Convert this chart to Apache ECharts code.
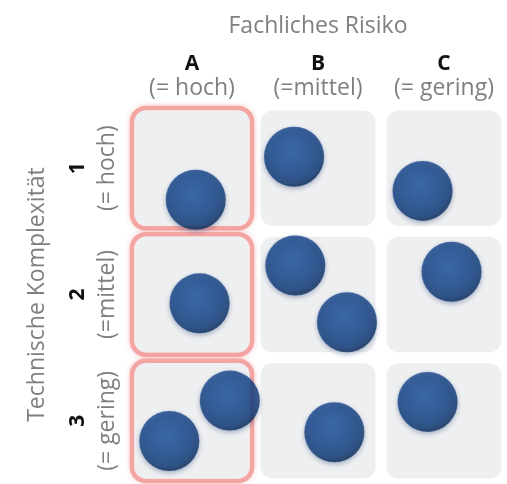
<!DOCTYPE html>
<html>
<head>
<meta charset="utf-8">
<style>
  html, body { margin: 0; padding: 0; background: #ffffff; }
  #chart { width: 507px; height: 484px; }
</style>
<script src="https://cdn.jsdelivr.net/npm/echarts@6/dist/echarts.min.js"></script>
</head>
<body>
<div id="chart"></div>
<script>
// Risk matrix: business risk (columns) vs. technical complexity (rows)
const columns = ['A', 'B', 'C'];
const columnNotes = ['(= hoch)', '(=mittel)', '(= gering)'];
const rows = ['1', '2', '3'];
const rowNotes = ['(= hoch)', '(=mittel)', '(= gering)'];
const highlightedColumn = 'A';

// Project positions inside the matrix (x: column units from left, y: row units from top)
const projectX = [0.53, 1.31, 2.33, 0.56, 1.32, 1.73, 2.56, 0.80, 0.32, 1.63, 2.37];
const projectY = [0.75, 0.41, 0.68, 1.57, 1.27, 1.72, 1.32, 2.34, 2.66, 2.59, 2.35];

const FONT = 'Open Sans';
const GREY_TEXT = '#7f7f7f';
const TEXT_SIZE = 23;
const KEY_SIZE = 21;

const cells = [];
columns.forEach((c, ci) => {
  rows.forEach((r, ri) => {
    cells.push([ci, ri, c === highlightedColumn ? 1 : 0]);
  });
});

const points = projectX.map((x, i) => [x, projectY[i]]);

function renderCell(params, api) {
  const ci = api.value(0), ri = api.value(1), hi = api.value(2);
  const p0 = api.coord([ci, ri]);
  const p1 = api.coord([ci + 1, ri + 1]);
  const inset = 5.5;
  const x = p0[0] + inset, y = p0[1] + inset;
  const w = p1[0] - p0[0] - 2 * inset, h = p1[1] - p0[1] - 2 * inset;
  const children = [];
  if (hi) {
    children.push({
      type: 'rect',
      shape: { x: x - 2.5, y: y - 2.5, width: w + 5, height: h + 5, r: 14 },
      style: {
        fill: 'none',
        stroke: '#f3a5a3',
        lineWidth: 4.5,
        shadowBlur: 5,
        shadowColor: 'rgba(240,150,150,0.6)'
      }
    });
  }
  children.push({
    type: 'rect',
    shape: { x: x, y: y, width: w, height: h, r: 12 },
    style: { fill: '#eeeff1' }
  });
  return { type: 'group', children: children };
}

const chart = echarts.init(document.getElementById('chart'), null, { renderer: 'canvas' });

chart.setOption({
  animation: false,
  backgroundColor: '#ffffff',
  grid: { left: 129, top: 105, width: 382.5, height: 382.5 },
  xAxis: [
    { type: 'value', min: 0, max: 3, show: false },
    {
      type: 'category',
      data: columns,
      position: 'top',
      boundaryGap: true,
      axisLine: { show: false },
      axisTick: { show: false },
      splitLine: { show: false },
      name: 'Fachliches Risiko',
      nameLocation: 'middle',
      nameGap: 67,
      nameTextStyle: { fontFamily: FONT, fontSize: TEXT_SIZE, color: GREY_TEXT },
      axisLabel: {
        margin: 5,
        formatter: (v, i) => '{k|' + v + '}\n{s|' + columnNotes[i] + '}',
        rich: {
          k: { fontFamily: FONT, fontSize: KEY_SIZE, fontWeight: 'bold', color: '#111111', lineHeight: 24, align: 'center' },
          s: { fontFamily: FONT, fontSize: TEXT_SIZE, color: GREY_TEXT, lineHeight: 24, align: 'center' }
        }
      }
    }
  ],
  yAxis: [
    { type: 'value', min: 0, max: 3, inverse: true, show: false },
    {
      type: 'category',
      data: rows,
      inverse: true,
      position: 'left',
      boundaryGap: true,
      axisLine: { show: false },
      axisTick: { show: false },
      splitLine: { show: false },
      name: 'Technische Komplexität',
      nameLocation: 'middle',
      nameRotate: 90,
      nameGap: 80,
      nameTextStyle: { fontFamily: FONT, fontSize: TEXT_SIZE, color: GREY_TEXT },
      axisLabel: {
        rotate: 90,
        margin: 7,
        formatter: (v, i) => '{k|' + v + '}\n{s|' + rowNotes[i] + '}',
        rich: {
          k: { fontFamily: FONT, fontSize: KEY_SIZE, fontWeight: 'bold', color: '#111111', lineHeight: 29, align: 'center' },
          s: { fontFamily: FONT, fontSize: TEXT_SIZE, color: GREY_TEXT, lineHeight: 29, align: 'center' }
        }
      }
    }
  ],
  series: [
    {
      type: 'custom',
      xAxisIndex: 0,
      yAxisIndex: 0,
      renderItem: renderCell,
      data: cells,
      silent: true,
      z: 1
    },
    {
      type: 'scatter',
      xAxisIndex: 0,
      yAxisIndex: 0,
      data: points,
      symbol: 'circle',
      symbolSize: 60,
      z: 3,
      itemStyle: {
        color: new echarts.graphic.RadialGradient(0.45, 0.4, 0.6, [
          { offset: 0, color: '#1d559f' },
          { offset: 0.55, color: '#16468b' },
          { offset: 0.86, color: '#103a76' },
          { offset: 1, color: '#0a2852' }
        ]),
        borderColor: 'rgba(90,140,210,0.35)',
        borderWidth: 0.8,
        shadowBlur: 5,
        shadowOffsetY: 2,
        shadowColor: 'rgba(20,50,100,0.4)'
      }
    }
  ]
});
</script>
</body>
</html>
